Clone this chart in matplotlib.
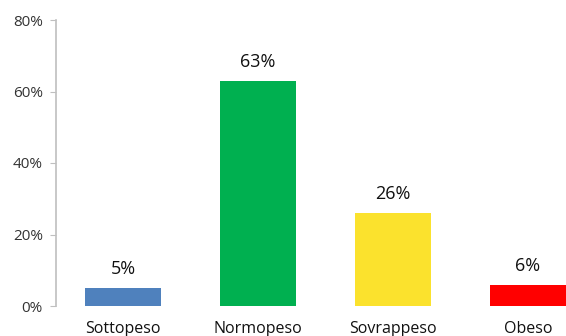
import matplotlib
matplotlib.use("Agg")
import matplotlib.pyplot as plt
from matplotlib.ticker import PercentFormatter

categories = ["Sottopeso", "Normopeso", "Sovrappeso", "Obeso"]
values = [5, 63, 26, 6]
colors = ["#4F81BD", "#00B050", "#FBE22D", "#FF0000"]

plt.rcParams["font.family"] = ["Open Sans", "DejaVu Sans"]

fig = plt.figure(figsize=(5.66, 3.36), dpi=100)
ax = fig.add_axes([55.5 / 566, 30 / 336, 540 / 566, 286 / 336])

x = list(range(len(categories)))
ax.bar(x, values, width=0.57, color=colors)
for xi, v in zip(x, values):
    ax.annotate(f"{v}%", (xi, v), xytext=(0, 7), textcoords="offset points",
                ha="center", va="bottom", fontsize=13, color="#111111")

ax.set_xlim(-0.5, 3.5)
ax.set_ylim(0, 80)
ax.set_yticks([0, 20, 40, 60, 80])
ax.yaxis.set_major_formatter(PercentFormatter(decimals=0))
ax.set_xticks(x)
ax.set_xticklabels(categories, fontsize=11.5, color="#111111")
ax.tick_params(axis="x", length=0, pad=11)
ax.tick_params(axis="y", labelsize=11, labelcolor="#333333", color="#BFBFBF",
               length=4, pad=5)
for side in ["top", "right", "bottom"]:
    ax.spines[side].set_visible(False)
ax.spines["left"].set_color("#BFBFBF")
ax.spines["left"].set_linewidth(1.2)

fig.savefig("out.png", dpi=100)
